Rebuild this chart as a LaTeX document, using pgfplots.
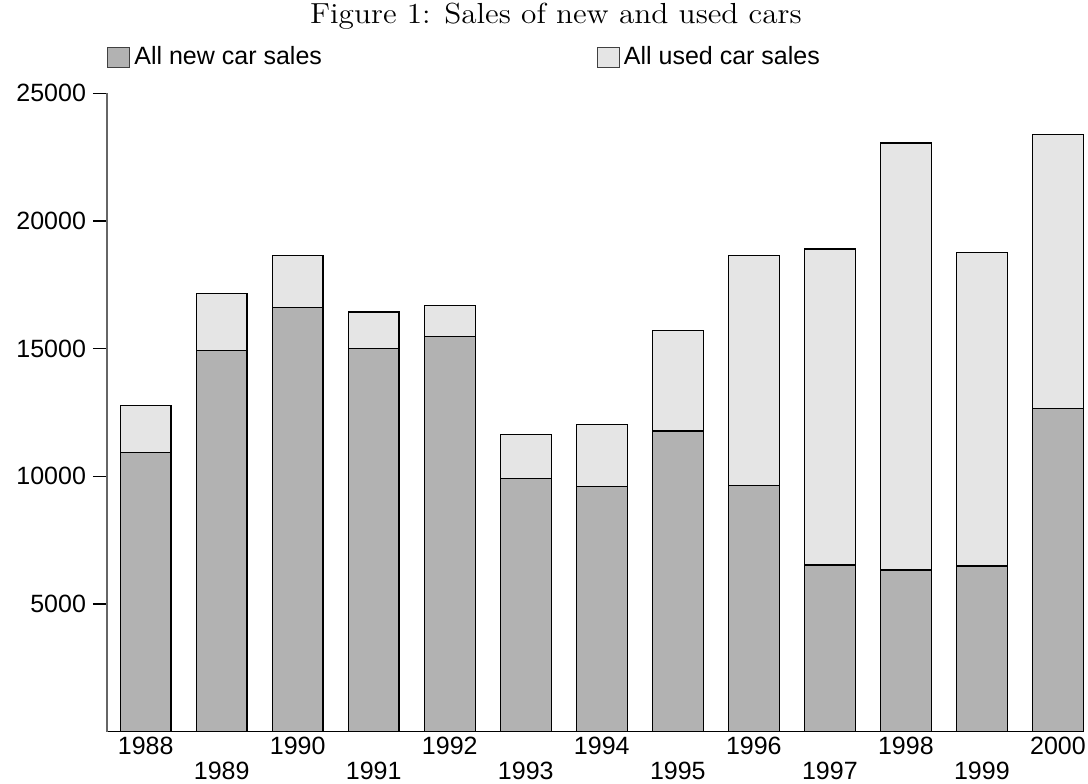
\documentclass[border=0pt]{standalone}
\usepackage{pgfplots}
\pgfplotsset{compat=1.18}
\usepackage{fontspec}
\setsansfont{Liberation Sans}
\usepackage{graphicx}
\definecolor{newc}{gray}{0.70}
\definecolor{usedc}{gray}{0.90}
\begin{document}
\begin{tikzpicture}
\useasboundingbox (-53.5pt,-25.65pt) rectangle (490.5pt,365.85pt);
\begin{axis}[
  at={(0,0)}, anchor=south west,
  scale only axis, width=488pt, height=319.25pt,
  xmin=-0.509, xmax=12.33, ymin=0, ymax=25000,
  enlargelimits=false, clip=false,
  ybar stacked, bar width=0.667,
  axis x line*=bottom, axis y line*=left,
  x axis line style={black, line width=0.6pt},
  y axis line style={black!60, line width=0.6pt},
  tick align=outside, major tick length=7pt,
  scaled y ticks=false,
  xtick={0,...,12},
  xticklabels={1988,\raisebox{-12.85pt}{1989},1990,\raisebox{-12.85pt}{1991},1992,\raisebox{-12.85pt}{1993},1994,\raisebox{-12.85pt}{1995},1996,\raisebox{-12.85pt}{1997},1998,\raisebox{-12.85pt}{1999},2000},
  xtick style={draw=none},
  ytick={5000,10000,15000,20000,25000},
  ytick style={black, line width=0.6pt},
  /pgf/number format/assume math mode=true,
  /pgf/number format/1000 sep={},
  tick label style={font=\sffamily\fontsize{12.5}{15}\selectfont},
  yticklabel style={/pgf/number format/fixed},
  xticklabel style={anchor=north, text height=9pt, inner sep=0pt, yshift=5pt},
  legend columns=2,
  legend image code/.code={\draw[#1, draw=black!75, line width=0.5pt] (0pt,-5pt) rectangle (11pt,5pt);},
  legend style={draw=none, fill=none, inner sep=0pt, at={(0,1)}, anchor=west, yshift=18pt,
    font=\sffamily\fontsize{12.5}{15}\selectfont,
    /tikz/every even column/.append style={column sep=135.5pt}},
]
\addplot[fill=newc, draw=black, line width=0.6pt] coordinates {
(0,10940) (1,14930) (2,16600) (3,15010) (4,15480) (5,9910) (6,9610)
(7,11770) (8,9630) (9,6530) (10,6330) (11,6490) (12,12640)};
\addlegendentry{All new car sales}
\addplot[fill=usedc, draw=black, line width=0.6pt] coordinates {
(0,1840) (1,2220) (2,2040) (3,1420) (4,1210) (5,1720) (6,2410)
(7,3950) (8,9030) (9,12370) (10,16720) (11,12270) (12,10740)};
\addlegendentry{All used car sales}
\node[anchor=base, font=\fontsize{14.5}{17}\selectfont, inner sep=0pt] at (rel axis cs:0.46,1) [yshift=35pt] {\scalebox{1.08}[1]{Figure 1: Sales of new and used cars}};
\end{axis}
\end{tikzpicture}
\end{document}
